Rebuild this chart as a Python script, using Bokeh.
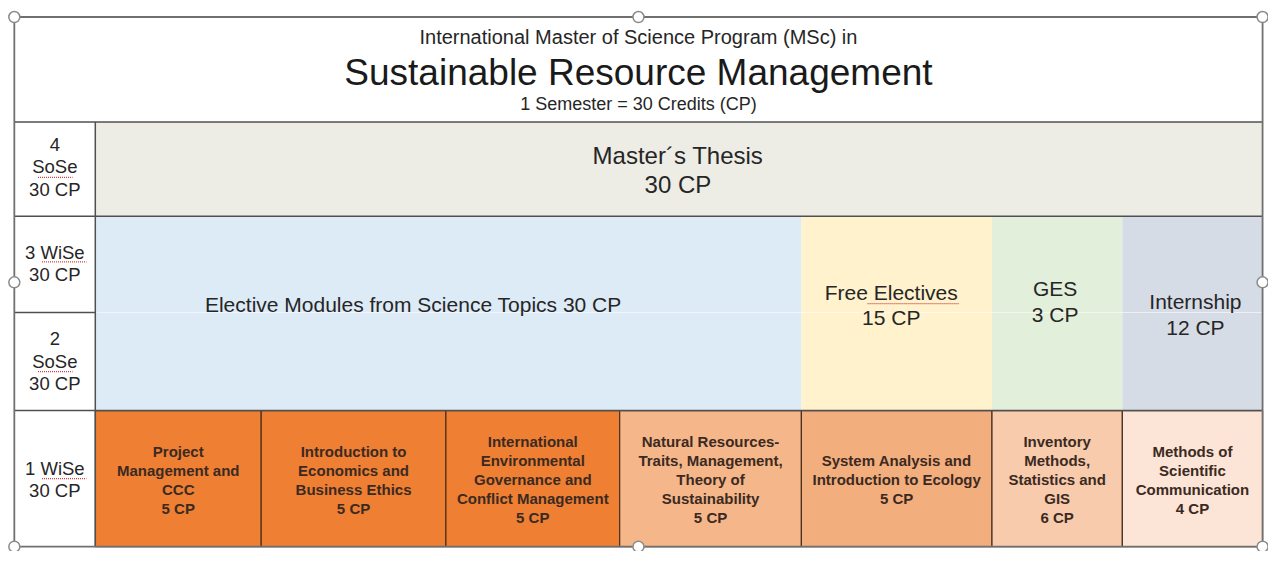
from bokeh.plotting import figure
from bokeh.models import Range1d
from bokeh.core.properties import value
from bokeh.embed import file_html
from bokeh.resources import INLINE

# ---------------- data ----------------
header_lines = ["International Master of Science Program (MSc) in",
                "Sustainable Resource Management",
                "1 Semester = 30 Credits (CP)"]

semester_labels = [["4", "SoSe", "30 CP"],
                   ["3 WiSe", "30 CP"],
                   ["2", "SoSe", "30 CP"],
                   ["1 WiSe", "30 CP"]]

thesis_name = "Master\u00b4s Thesis"
thesis_cp = 30

block_names = ["Elective Modules from Science Topics", "Free Electives", "GES", "Internship"]
block_cp = [30, 15, 3, 12]

module_names = [["Project", "Management and", "CCC"],
                ["Introduction to", "Economics and", "Business Ethics"],
                ["International", "Environmental", "Governance and", "Conflict Management"],
                ["Natural Resources-", "Traits, Management,", "Theory of", "Sustainability"],
                ["System Analysis and", "Introduction to Ecology"],
                ["Inventory", "Methods,", "Statistics and", "GIS"],
                ["Methods of", "Scientific", "Communication"]]
module_cp = [5, 5, 5, 5, 5, 6, 4]

# ---------------- layout / style ----------------
FONT = value("Liberation Sans")
TL, TR = 14, 1278
TOP, HDR, R4, MID, R1, BOT = 17, 125, 222, 321, 422, 562
LAB = 96
mod_x = [96, 264, 451, 627, 811, 1004, 1136, 1278]
blk_x = [96, 811, 1004, 1136, 1278]
mod_colors = ["#EE7F33", "#EE7F33", "#EE7F33", "#F5B68A", "#F3AE7E", "#F8CBAD", "#FCE4D6"]
blk_colors = ["#DDEBF7", "#FFF2CC", "#E2EFDA", "#D6DCE5"]
thesis_color = "#EDECE5"
TXT = "#262626"

p = figure(width=1268, height=551, output_backend="svg", toolbar_location=None,
           x_range=Range1d(0, 1284), y_range=Range1d(567, 0),
           min_border=0, outline_line_color=None)
p.axis.visible = False
p.grid.visible = False
p.background_fill_color = "white"

# header
p.quad(left=[TL], right=[TR], top=[TOP], bottom=[HDR], fill_color="white", line_color=None)
p.text(x=[646], y=[38], text=[header_lines[0]], text_font=FONT, text_font_size="20px",
       text_align="center", text_baseline="middle", text_color=TXT)
p.text(x=[646], y=[74], text=[header_lines[1]], text_font=FONT, text_font_size="37px",
       text_align="center", text_baseline="middle", text_color="#1a1a1a")
p.text(x=[646], y=[106], text=[header_lines[2]], text_font=FONT, text_font_size="18px",
       text_align="center", text_baseline="middle", text_color=TXT)

# thesis row
p.quad(left=[LAB], right=[TR], top=[HDR], bottom=[R4], fill_color=thesis_color, line_color=None)
p.text(x=[686, 686], y=[159, 189], text=[thesis_name, f"{thesis_cp} CP"], text_font=FONT,
       text_font_size="24px", text_align="center", text_baseline="middle", text_color=TXT)

# semesters 2-3 blocks
p.quad(left=blk_x[:-1], right=blk_x[1:], top=[R4] * 4, bottom=[R1] * 4,
       fill_color=blk_colors, line_color=None)
p.segment(x0=[LAB], y0=[MID], x1=[TR], y1=[MID], line_color="white", line_alpha=0.6, line_width=1)
blk_text_x = [418, 902, 1068, 1210]
blk_text_y = [[313], [300, 326], [296, 323], [310, 336]]
blk_lines = [[f"{block_names[0]} {block_cp[0]} CP"],
             [block_names[1], f"{block_cp[1]} CP"],
             [block_names[2], f"{block_cp[2]} CP"],
             [block_names[3], f"{block_cp[3]} CP"]]
bx, by, bt = [], [], []
for cx, ys, lines in zip(blk_text_x, blk_text_y, blk_lines):
    for yy, t in zip(ys, lines):
        bx.append(cx); by.append(yy); bt.append(t)
p.text(x=bx, y=by, text=bt, text_font=FONT, text_font_size="21px",
       text_align="center", text_baseline="middle", text_color=TXT)

# first semester modules
p.quad(left=mod_x[:-1], right=mod_x[1:], top=[R1] * 7, bottom=[BOT] * 7,
       fill_color=mod_colors, line_color="#4a3020", line_width=1.2)
mx, my, mt = [], [], []
for i, (lines, cp) in enumerate(zip(module_names, module_cp)):
    all_lines = lines + [f"{cp} CP"]
    n = len(all_lines)
    cx = (mod_x[i] + mod_x[i + 1]) / 2
    for k, t in enumerate(all_lines):
        mx.append(cx); my.append(493 + (k - (n - 1) / 2) * 19.6); mt.append(t)
p.text(x=mx, y=my, text=mt, text_font=FONT, text_font_size="15px", text_font_style="bold",
       text_align="center", text_baseline="middle", text_color="#3b2a22")

# semester labels
lab_y = [[148, 171, 194], [259, 282], [348, 371, 394], [482, 504]]
lx, ly, lt = [], [], []
for ys, lines in zip(lab_y, semester_labels):
    for yy, t in zip(ys, lines):
        lx.append(55); ly.append(yy); lt.append(t)
p.text(x=lx, y=ly, text=lt, text_font=FONT, text_font_size="18.5px",
       text_align="center", text_baseline="middle", text_color=TXT)

# spell-check squiggles
p.segment(x0=[38, 42, 38, 42, 878], y0=[182, 269, 382, 492, 312],
          x1=[73, 87, 73, 87, 971], y1=[182, 269, 382, 492, 312],
          line_color="#d04040", line_width=1.2, line_dash="1 1")

# grid lines
p.segment(x0=[TL, TL, TL, TL], y0=[HDR, R4, MID, R1],
          x1=[TR, TR, LAB, TR], y1=[HDR, R4, MID, R1],
          line_color="#505050", line_width=1.5)
p.segment(x0=[LAB], y0=[HDR], x1=[LAB], y1=[BOT], line_color="#505050", line_width=1.5)
p.quad(left=[TL], right=[TR], top=[TOP], bottom=[BOT], fill_color=None,
       line_color="#707070", line_width=1.8)

# selection handles
p.scatter(x=[TL, 646, TR, TL, TR, TL, 646, TR], y=[TOP, TOP, TOP, 290, 290, BOT, BOT, BOT],
          size=11, marker="circle", fill_color="white", line_color="#8a8a8a", line_width=1.5)

open("out.html", "w").write(file_html(p, INLINE))
